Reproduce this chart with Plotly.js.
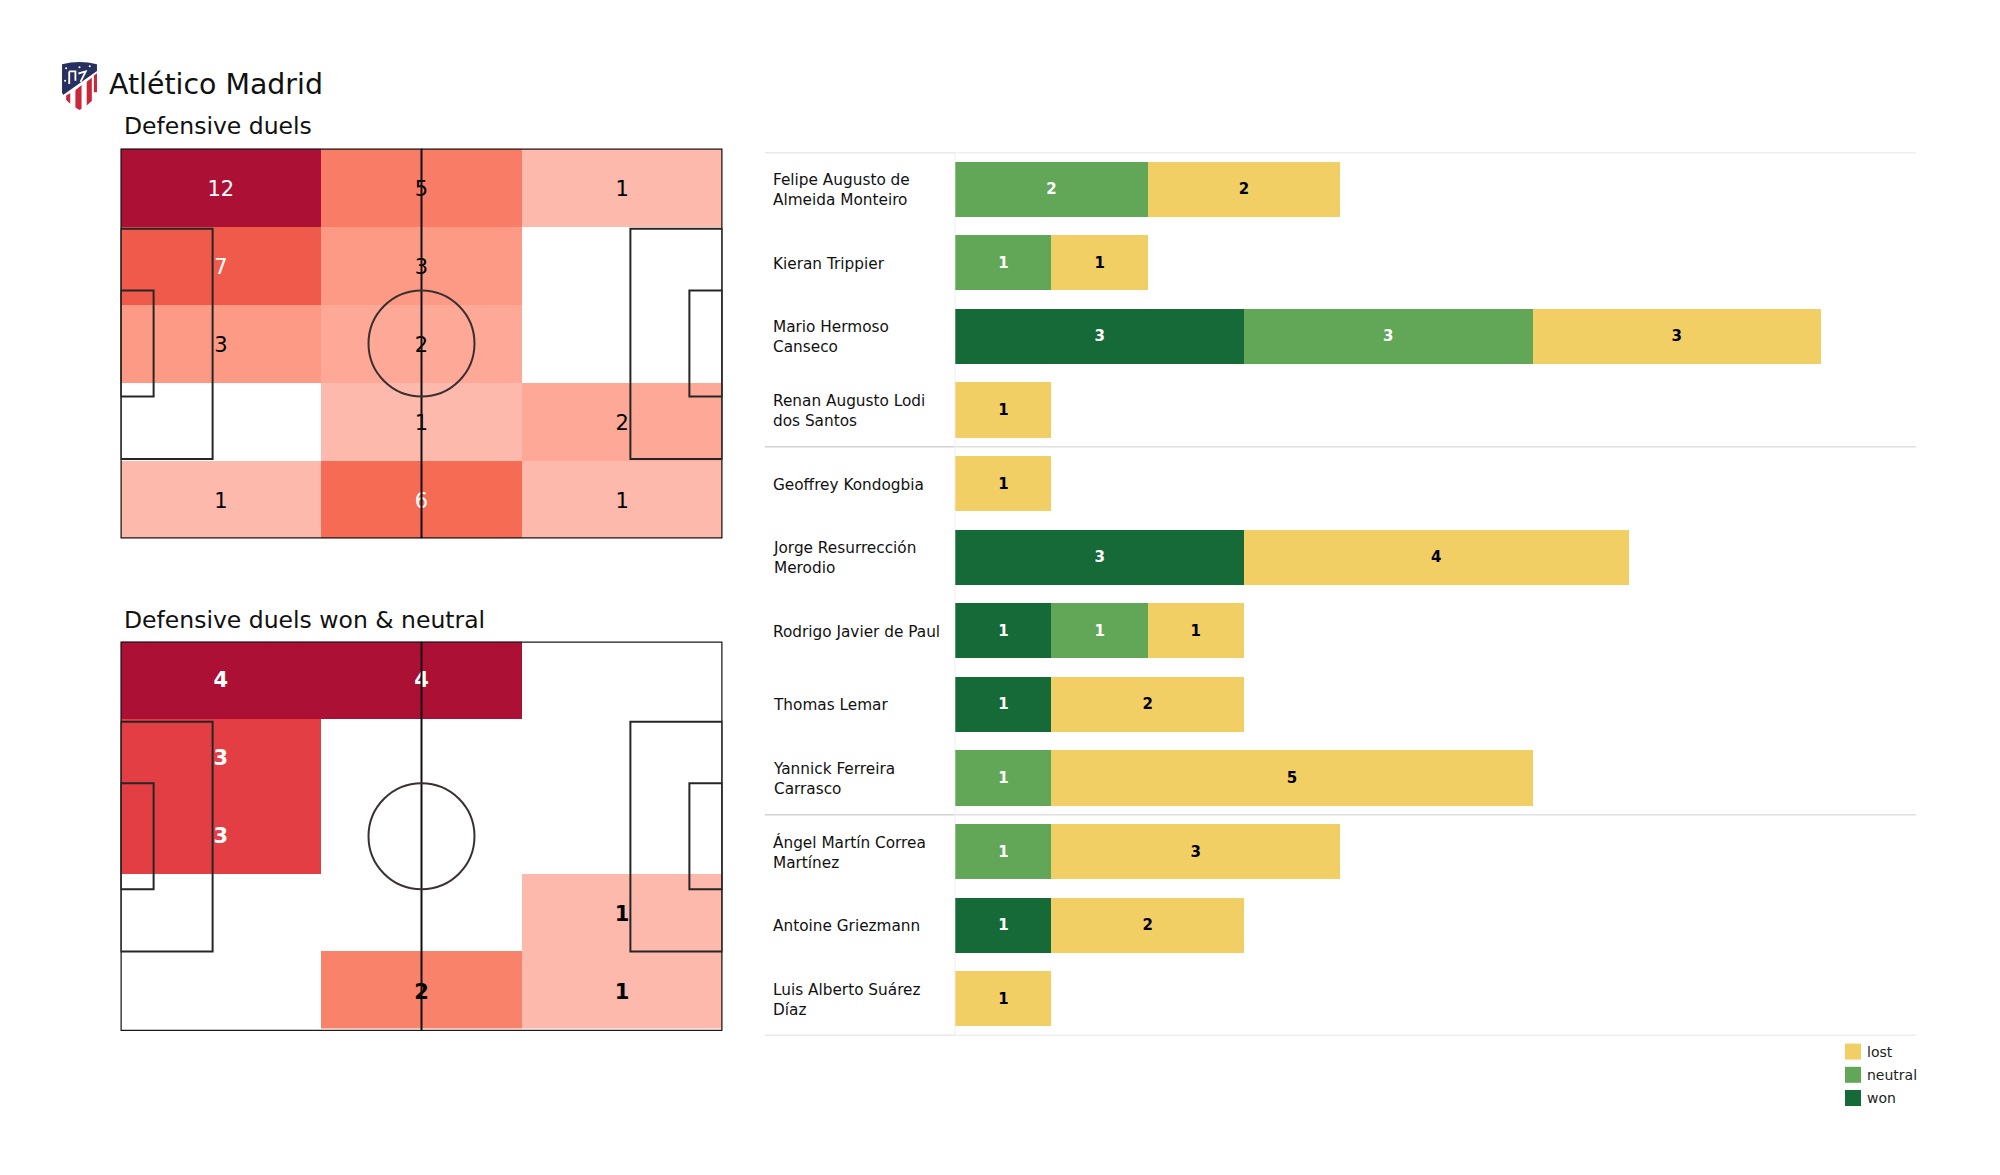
<!DOCTYPE html>
<html>
<head>
<meta charset="utf-8">
<script src="https://cdn.plot.ly/plotly-3.0.1.min.js"></script>
<style>html,body{margin:0;padding:0;background:#fff}#chart{width:2000px;height:1175px}</style>
</head>
<body>
<div id="chart"></div>
<script>
// ---- data ----
const teamName = "Atlético Madrid";
const heatTitleAll = "Defensive duels";
const heatTitleWon = "Defensive duels won &amp; neutral";
const zoneX = [16.67, 50, 83.33];
const zoneY = [10, 30, 50, 70, 90];
const zoneEdgesAll = [0, 20, 40, 60, 80, 100];
const zoneEdgesWon = [0, 20, 40, 59.7, 79.5, 99.4];
const duelsAll = [[12, 5, 1], [7, 3, 0], [3, 2, 0], [0, 1, 2], [1, 6, 1]];
const duelsWon = [[4, 4, 0], [3, 0, 0], [3, 0, 0], [0, 0, 1], [0, 2, 1]];
const coloursAll = {0:"#ffffff",1:"#fdb9ac",2:"#fea898",3:"#fd9a86",5:"#f87c66",6:"#f56b54",7:"#f05a4b",12:"#ad1035"};
const coloursWon = {0:"#ffffff",1:"#fdb9ac",2:"#f9826b",3:"#e33e43",4:"#ad1035"};
const whiteTextAll = [6, 7, 12];
const whiteTextWon = [3, 4];

const players = [
  "Felipe Augusto de<br>Almeida Monteiro", "Kieran Trippier", "Mario Hermoso<br>Canseco",
  "Renan Augusto Lodi<br>dos Santos", "Geoffrey Kondogbia", "Jorge Resurrección<br>Merodio",
  "Rodrigo Javier de Paul", "Thomas Lemar", "Yannick Ferreira<br>Carrasco",
  "Ángel Martín Correa<br>Martínez", "Antoine Griezmann", "Luis Alberto Suárez<br>Díaz"
];
const won     = [0, 0, 3, 0, 0, 3, 1, 1, 0, 0, 1, 0];
const neutral = [2, 1, 3, 0, 0, 0, 1, 0, 1, 1, 0, 0];
const lost    = [2, 1, 3, 1, 1, 4, 1, 2, 5, 3, 2, 1];
const groupBreaks = [-0.5, 3.5, 8.5, 11.5];
const colWon = "#156a38", colNeutral = "#62a758", colLost = "#f1cf65";

// ---- layout helpers ----
const W = 2000, H = 1175;
const dx = (a, b) => [a / W, b / W];
const dy = (top, bottom) => [1 - bottom / H, 1 - top / H];
const hiddenAxis = extra => Object.assign({visible:false, showgrid:false, zeroline:false, fixedrange:true}, extra);

function scaleFrom(map, zmax) {
  const keys = Object.keys(map).map(Number).sort((a, b) => a - b);
  return keys.map(k => [k / zmax, map[k]]);
}
function heatTraces(z, edges, colours, whites, xa, ya, bold, drop) {
  const zmax = Math.max(...z.flat());
  const xs = [], ys = [], txt = [], cols = [];
  z.forEach((row, r) => row.forEach((v, c) => {
    if (v > 0) { xs.push(zoneX[c]); ys.push(zoneY[r] + drop); txt.push(String(v)); cols.push(whites.includes(v) ? "#ffffff" : "#000000"); }
  }));
  return [
    {type:"heatmap", x:zoneX, y:edges, z:z, zmin:0, zmax:zmax, colorscale:scaleFrom(colours, zmax),
     showscale:false, hoverinfo:"skip", xaxis:xa, yaxis:ya, showlegend:false, xgap:0, ygap:0},
    {type:"scatter", mode:"text", x:xs, y:ys, text:txt, xaxis:xa, yaxis:ya, showlegend:false, hoverinfo:"skip",
     textposition:"middle center",
     textfont:{family:"DejaVu Sans", size:21, color:cols, weight: bold ? 700 : 400}}
  ];
}
function pitchShapes(xa, ya) {
  const line = {color:"#262626", width:2};
  const rect = (x0, x1, y0, y1, l) => ({type:"rect", xref:xa, yref:ya, x0, x1, y0, y1, line:l || line, layer:"above", fillcolor:"rgba(0,0,0,0)"});
  return [
    rect(0, 100, 0, 100, {color:"#1a1a1a", width:2.5}), rect(0, 15.3, 20.6, 79.6), rect(84.7, 100, 20.6, 79.6),
    rect(0, 5.5, 36.4, 63.6), rect(94.5, 100, 36.4, 63.6),
    {type:"line", xref:xa, yref:ya, x0:50, x1:50, y0:0, y1:100, line:{color:"#111", width:2}, layer:"above"},
    {type:"circle", xref:xa, yref:ya, x0:41.2, x1:58.8, y0:36.4, y1:63.6, line:{color:"#3a3030", width:2}, layer:"above"}
  ];
}
const barText = (arr) => arr.map(v => v > 0 ? String(v) : "");
const barVals = (arr) => arr.map(v => v > 0 ? v : null);
function barTrace(name, vals, colour, textColour, rank) {
  return {type:"bar", orientation:"h", name:name, legendgroup:name, legendrank:rank, x:barVals(vals), y:players, xaxis:"x3", yaxis:"y3",
    width:0.75, marker:{color:colour, line:{width:0}}, text:barText(vals), textposition:"inside",
    insidetextanchor:"middle", textangle:0, constraintext:"none", hoverinfo:"x+name",
    textfont:{family:"DejaVu Sans", size:15, color:textColour, weight:700}};
}

const traces = [
  ...heatTraces(duelsAll, zoneEdgesAll, coloursAll, whiteTextAll, "x", "y", false, 0.85),
  ...heatTraces(duelsWon, zoneEdgesWon, coloursWon, whiteTextWon, "x2", "y2", true, 0.45),
  barTrace("won", won, colWon, "#ffffff", 3),
  barTrace("neutral", neutral, colNeutral, "#ffffff", 2),
  barTrace("lost", lost, colLost, "#000000", 1)
];

const shapes = [...pitchShapes("x", "y"), ...pitchShapes("x2", "y2")];
groupBreaks.forEach(b => {
  shapes.push({type:"line", xref:"paper", yref:"y3", x0:765/W, x1:955/W, y0:b, y1:b, line:{color:"#d2d2d2", width:1.5}, layer:"below"});
  shapes.push({type:"line", xref:"paper", yref:"y3", x0:955/W, x1:1916/W, y0:b, y1:b, line:{color:"#e0e0e0", width:1.5}, layer:"below"});
});
shapes.push({type:"line", xref:"paper", yref:"y3", x0:955/W, x1:955/W, y0:-0.5, y1:11.5, line:{color:"#eeeeee", width:1}, layer:"below"});

const font = (size) => ({family:"DejaVu Sans", size:size, color:"#111"});
const note = (text, px, py, size) => ({text, xref:"paper", yref:"paper", x:px/W, y:1-py/H, xanchor:"left", yanchor:"middle", showarrow:false, font:font(size)});
const annotations = [
  note(teamName, 107, 84, 28.4),
  note(heatTitleAll, 122, 125.5, 23.5),
  note(heatTitleWon, 122, 619.5, 23.5),
  ...players.map(p => ({text:p, xref:"paper", yref:"y3", x:771/W, y:p, xanchor:"left", yanchor:"middle", align:"left",
    yshift:-1, showarrow:false, font:font(15.3)}))
];

const crest = `<svg xmlns="http://www.w3.org/2000/svg" viewBox="0 0 36 48">
<defs><clipPath id="c"><path d="M1 3 Q18 -1 35 3 L35 30 Q33 39 18 47 Q3 39 1 30 Z"/></clipPath></defs>
<g clip-path="url(#c)"><rect width="36" height="48" fill="#fff"/>
<path d="M0 0H36V9L0 34Z" fill="#27305f"/>
<path d="M5 33 L9 31 V48 H5Z M14 28 L20 23 V48 H14Z M25 20 L30 16 V48 H25Z M32 14 L36 11 V30 H32Z" fill="#c8283a"/>
<path d="M8 10 V22 M8 10 H14 V19 M17 12 L24 10 L19 20" stroke="#fff" stroke-width="1.8" fill="none"/>
<circle cx="5" cy="7" r="1" fill="#fff"/><circle cx="18" cy="6" r="1" fill="#fff"/><circle cx="28" cy="5" r="1" fill="#fff"/><circle cx="4" cy="19" r="1" fill="#fff"/>
</g></svg>`;

const layout = {
  width:W, height:H, margin:{l:0, r:0, t:0, b:0}, paper_bgcolor:"#fff", plot_bgcolor:"rgba(0,0,0,0)",
  font:{family:"DejaVu Sans"}, barmode:"stack", bargap:0.25, hovermode:"closest",
  xaxis: hiddenAxis({domain:dx(120.5, 722.5), range:[0, 100]}),
  yaxis: hiddenAxis({domain:dy(148.5, 538.5), range:[100, 0]}),
  xaxis2:hiddenAxis({domain:dx(120.5, 722.5), range:[0, 100]}),
  yaxis2:hiddenAxis({domain:dy(641.5, 1031), range:[100, 0]}),
  xaxis3:hiddenAxis({domain:dx(955.3, 1917.3), range:[0, 10]}),
  yaxis3:hiddenAxis({domain:dy(152.5, 1035.5), type:"category", categoryorder:"array", categoryarray:players, range:[11.5, -0.5]}),
  shapes, annotations,
  images:[{source:"data:image/svg+xml;charset=utf-8," + encodeURIComponent(crest), xref:"paper", yref:"paper",
    x:61/W, y:1-61/H, sizex:37/W, sizey:50/H, xanchor:"left", yanchor:"top", sizing:"stretch", layer:"above"}],
  showlegend:true,
  legend:{x:1827/W, y:1-1036/H, xanchor:"left", yanchor:"top", traceorder:"grouped", tracegroupgap:2,
    font:{family:"DejaVu Sans", size:14, color:"#222"}, bgcolor:"rgba(0,0,0,0)", borderwidth:0}
};

const gd = document.getElementById("chart");
const enlargeSwatches = () => gd.querySelectorAll(".legend .legendpoints path").forEach(p => p.setAttribute("d", "M14,8H-2V-8H14Z"));
Plotly.newPlot(gd, traces, layout, {displayModeBar:false}).then(() => {
  enlargeSwatches();
  gd.on("plotly_afterplot", enlargeSwatches);
  setTimeout(enlargeSwatches, 50);
});
</script>
</body>
</html>
